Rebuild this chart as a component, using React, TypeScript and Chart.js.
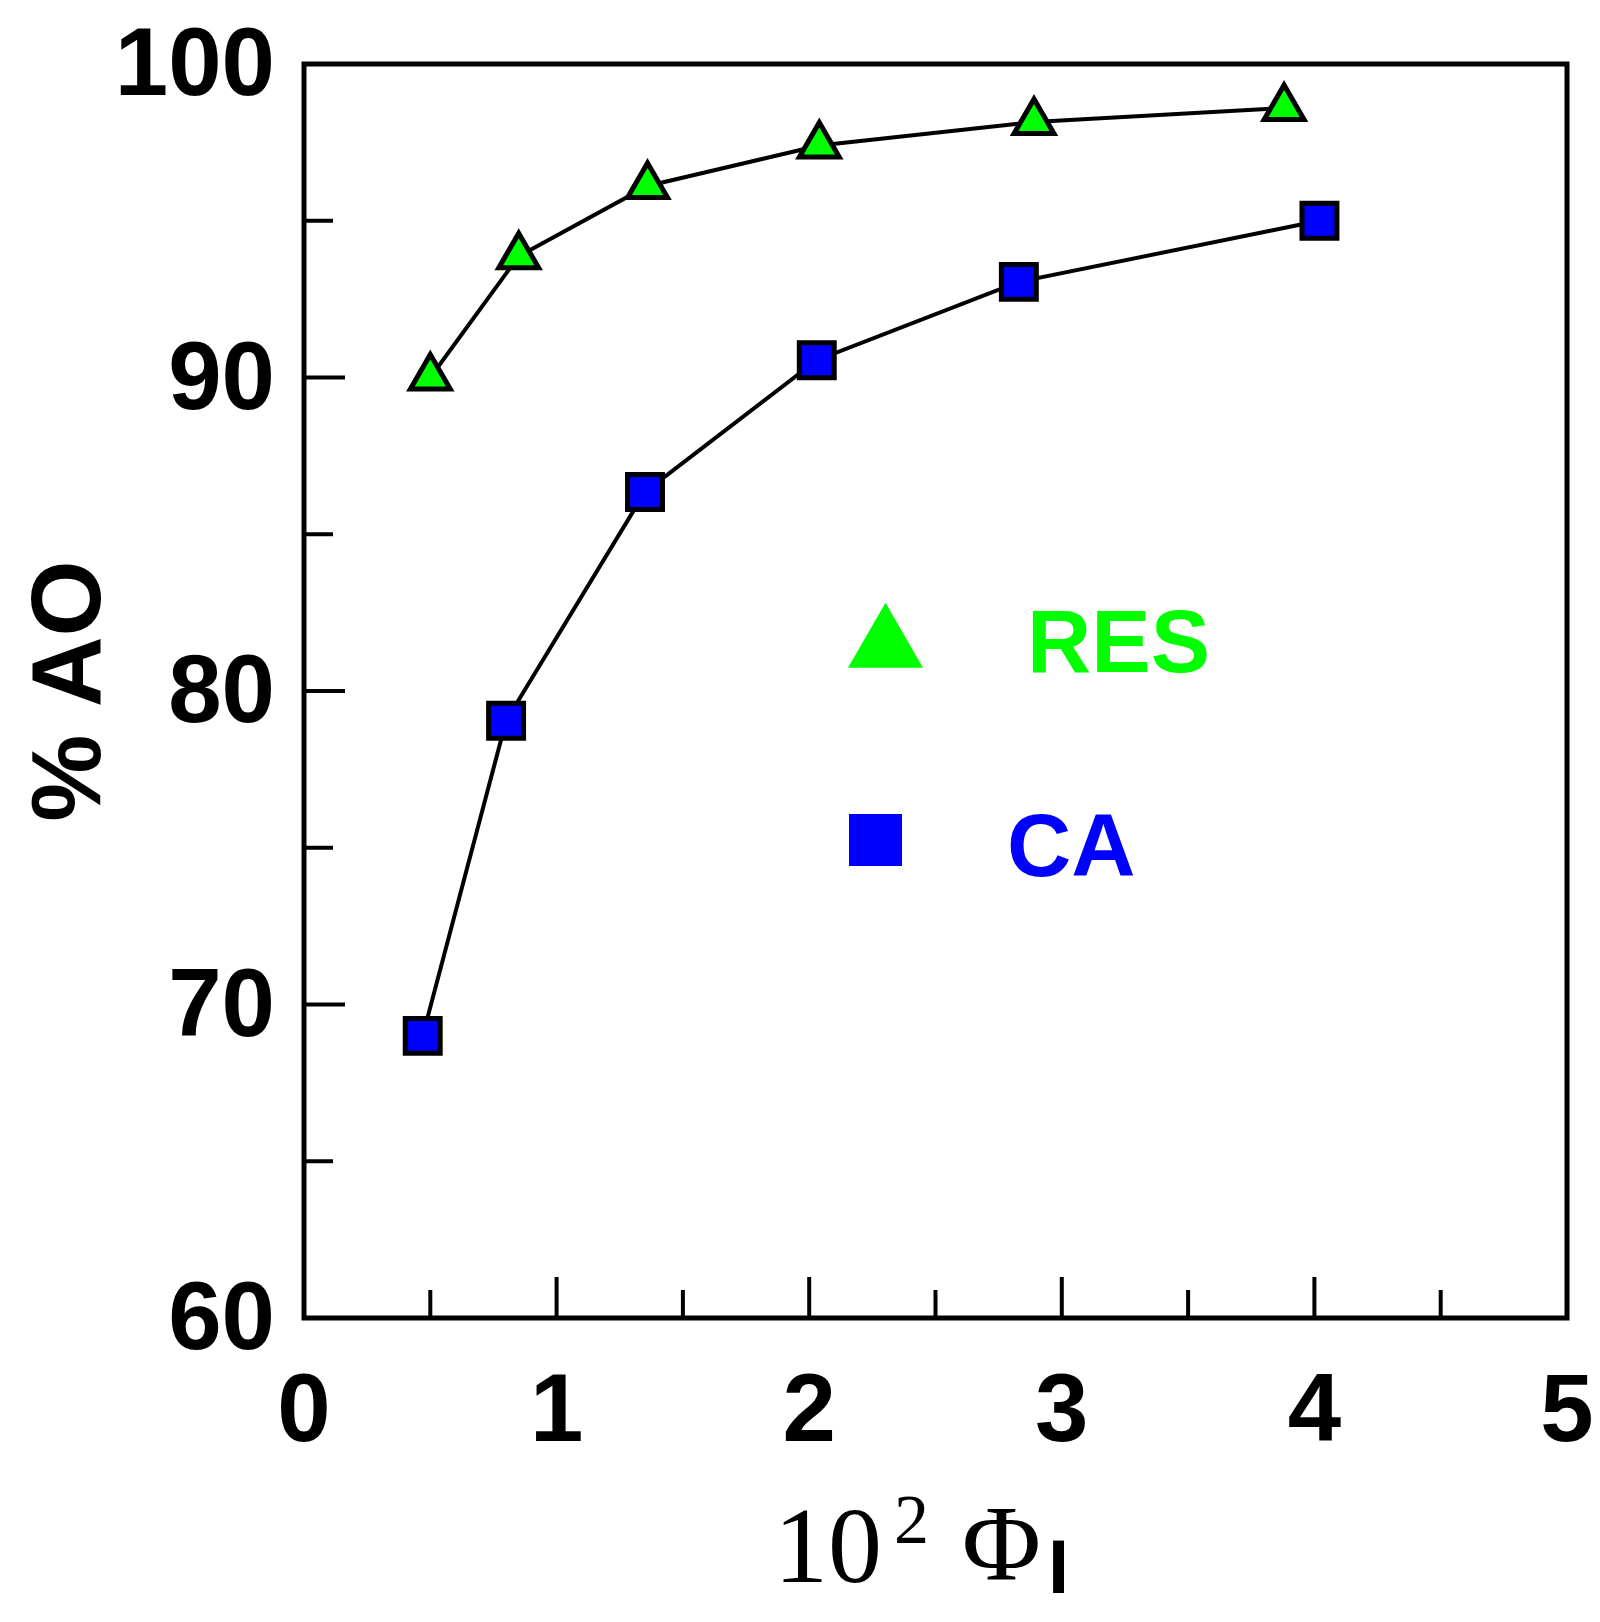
import React, { useEffect, useRef } from 'react';
import { Chart, registerables } from 'chart.js';

Chart.register(...registerables);

// ---- data ----
const seriesNames = ['RES', 'CA'];
const resX = [0.5, 0.85, 1.36, 2.04, 2.89, 3.88];
const resY = [90.0, 93.87, 96.11, 97.4, 98.15, 98.6];
const caX = [0.47, 0.8, 1.35, 2.03, 2.83, 4.02];
const caY = [69.0, 79.05, 86.35, 90.55, 93.05, 95.0];

const xTickValues = [0, 1, 2, 3, 4, 5];
const yTickValues = [60, 70, 80, 90, 100];
const xMajorTicks = [1, 2, 3, 4];
const xMinorTicks = [0.5, 1.5, 2.5, 3.5, 4.5];
const yMajorTicks = [70, 80, 90];
const yMinorTicks = [65, 75, 85, 95];

const yTitle = '% AO';
const xTitleParts = ['10', '2', 'Φ', 'I'];

const GREEN = '#00ff00';
const BLUE = '#0000ff';
const SANS = '"Liberation Sans", Arial, sans-serif';
const SERIF = '"Liberation Serif", "Times New Roman", serif';

const framePlugin = {
  id: 'frameTicks',
  beforeDraw(chart: any) {
    const ys = chart.scales.y;
    if (ys && !ys.__shifted) {
      const orig = ys.drawLabels.bind(ys);
      ys.drawLabels = (ca: any) => {
        const c = ys.ctx;
        c.save();
        c.translate(0, 5);
        orig(ca);
        c.restore();
      };
      ys.__shifted = true;
    }
  },
  beforeDatasetsDraw(chart: any) {
    const { ctx, chartArea, scales } = chart;
    const { left, right, top, bottom } = chartArea;
    ctx.save();
    ctx.strokeStyle = '#000';
    ctx.lineCap = 'butt';
    // inward ticks
    ctx.lineWidth = 4;
    const xs = scales.x;
    const ys = scales.y;
    const drawX = (vals: number[], len: number) => {
      vals.forEach((v) => {
        const px = xs.getPixelForValue(v);
        ctx.beginPath();
        ctx.moveTo(px, bottom);
        ctx.lineTo(px, bottom - len);
        ctx.stroke();
      });
    };
    const drawY = (vals: number[], len: number) => {
      vals.forEach((v) => {
        const py = ys.getPixelForValue(v);
        ctx.beginPath();
        ctx.moveTo(left, py);
        ctx.lineTo(left + len, py);
        ctx.stroke();
      });
    };
    drawX(xMajorTicks, 41);
    drawX(xMinorTicks, 28);
    drawY(yMajorTicks, 41);
    drawY(yMinorTicks, 29);
    // frame
    ctx.lineWidth = 5;
    ctx.lineJoin = 'miter';
    ctx.strokeRect(left, top, right - left, bottom - top);
    ctx.restore();
  },
  afterDraw(chart: any) {
    const { ctx } = chart;
    ctx.save();
    ctx.textAlign = 'left';
    ctx.textBaseline = 'alphabetic';
    ctx.fillStyle = '#000';
    const put = (text: string, font: string, visLeft: number, baseline: number) => {
      ctx.font = font;
      const m = ctx.measureText(text);
      ctx.fillText(text, visLeft + m.actualBoundingBoxLeft, baseline);
    };
    // x axis title: 10^2 Φ_I
    put(xTitleParts[0], `108px ${SERIF}`, 783, 1582);
    put(xTitleParts[1], `70px ${SERIF}`, 897, 1543);
    put(xTitleParts[2], `108px ${SERIF}`, 965, 1580);
    put(xTitleParts[3], `bold 76px ${SANS}`, 1053, 1593);

    // legend
    const triCx = 885.5;
    const triCy = 646;
    const triR = 43.3;
    ctx.fillStyle = GREEN;
    ctx.beginPath();
    for (let k = 0; k < 3; k++) {
      const a = (k * 2 * Math.PI) / 3;
      const px = triCx + Math.sin(a) * triR;
      const py = triCy - Math.cos(a) * triR;
      if (k === 0) ctx.moveTo(px, py);
      else ctx.lineTo(px, py);
    }
    ctx.closePath();
    ctx.fill();
    ctx.fillStyle = BLUE;
    ctx.fillRect(849, 814, 53, 52);

    ctx.fillStyle = GREEN;
    put(seriesNames[0], `bold 89px ${SANS}`, 1032, 672);
    ctx.fillStyle = BLUE;
    put(seriesNames[1], `bold 89px ${SANS}`, 1010, 876);
    ctx.restore();
  },
};

const zeroPadding = (s: any) => {
  s.paddingTop = 0;
  s.paddingBottom = 0;
  s.paddingLeft = 0;
  s.paddingRight = 0;
};

export default function App() {
  const ref = useRef<HTMLCanvasElement | null>(null);

  useEffect(() => {
    document.body.style.margin = '0';
    const canvas = ref.current;
    if (!canvas) return;
    const tickFont = { family: SANS, size: 96, weight: 'bold' as const };
    const chart = new Chart(canvas, {
      type: 'scatter',
      data: {
        datasets: [
          {
            label: seriesNames[0],
            data: resX.map((x, i) => ({ x, y: resY[i] })),
            showLine: true,
            borderColor: '#000',
            borderWidth: 4,
            pointStyle: 'triangle',
            pointRadius: 23,
            pointHoverRadius: 23,
            pointBackgroundColor: GREEN,
            pointBorderColor: '#000',
            pointBorderWidth: 5,
            pointHoverBorderWidth: 5,
            tension: 0,
          },
          {
            label: seriesNames[1],
            data: caX.map((x, i) => ({ x, y: caY[i] })),
            showLine: true,
            borderColor: '#000',
            borderWidth: 4,
            pointStyle: 'rect',
            pointRadius: 24.7,
            pointHoverRadius: 24.7,
            pointBackgroundColor: BLUE,
            pointBorderColor: '#000',
            pointBorderWidth: 5,
            pointHoverBorderWidth: 5,
            tension: 0,
          },
        ],
      },
      options: {
        animation: false,
        responsive: false,
        devicePixelRatio: 1,
        events: [],
        layout: { padding: { top: 64, right: 33, left: 0, bottom: 0 } },
        plugins: {
          legend: { display: false },
          tooltip: { enabled: false },
        },
        scales: {
          x: {
            type: 'linear',
            position: 'bottom',
            min: 0,
            max: 5,
            afterFit: (s: any) => {
              s.height = 304;
              zeroPadding(s);
            },
            afterBuildTicks: (s: any) => {
              s.ticks = xTickValues.map((v) => ({ value: v }));
            },
            grid: { display: false, drawTicks: false },
            border: { display: false },
            ticks: {
              color: '#000',
              font: tickFont,
              padding: 39,
              maxRotation: 0,
              autoSkip: false,
            },
          },
          y: {
            type: 'linear',
            position: 'left',
            min: 60,
            max: 100,
            afterFit: (s: any) => {
              s.width = 304;
              zeroPadding(s);
            },
            afterBuildTicks: (s: any) => {
              s.ticks = yTickValues.map((v) => ({ value: v }));
            },
            grid: { display: false, drawTicks: false },
            border: { display: false },
            ticks: {
              color: '#000',
              font: tickFont,
              padding: 29,
              autoSkip: false,
            },
            title: {
              display: true,
              text: yTitle,
              color: '#000',
              font: { family: SANS, size: 98, weight: 'bold' as const },
              padding: { top: 14, bottom: 0 },
            },
          },
        },
      },
      plugins: [framePlugin],
    } as any);
    return () => {
      chart.destroy();
    };
  }, []);

  return (
    <div style={{ width: 1600, height: 1622, background: '#fff' }}>
      <canvas ref={ref} width={1600} height={1622} style={{ display: 'block', width: 1600, height: 1622 }} />
    </div>
  );
}
